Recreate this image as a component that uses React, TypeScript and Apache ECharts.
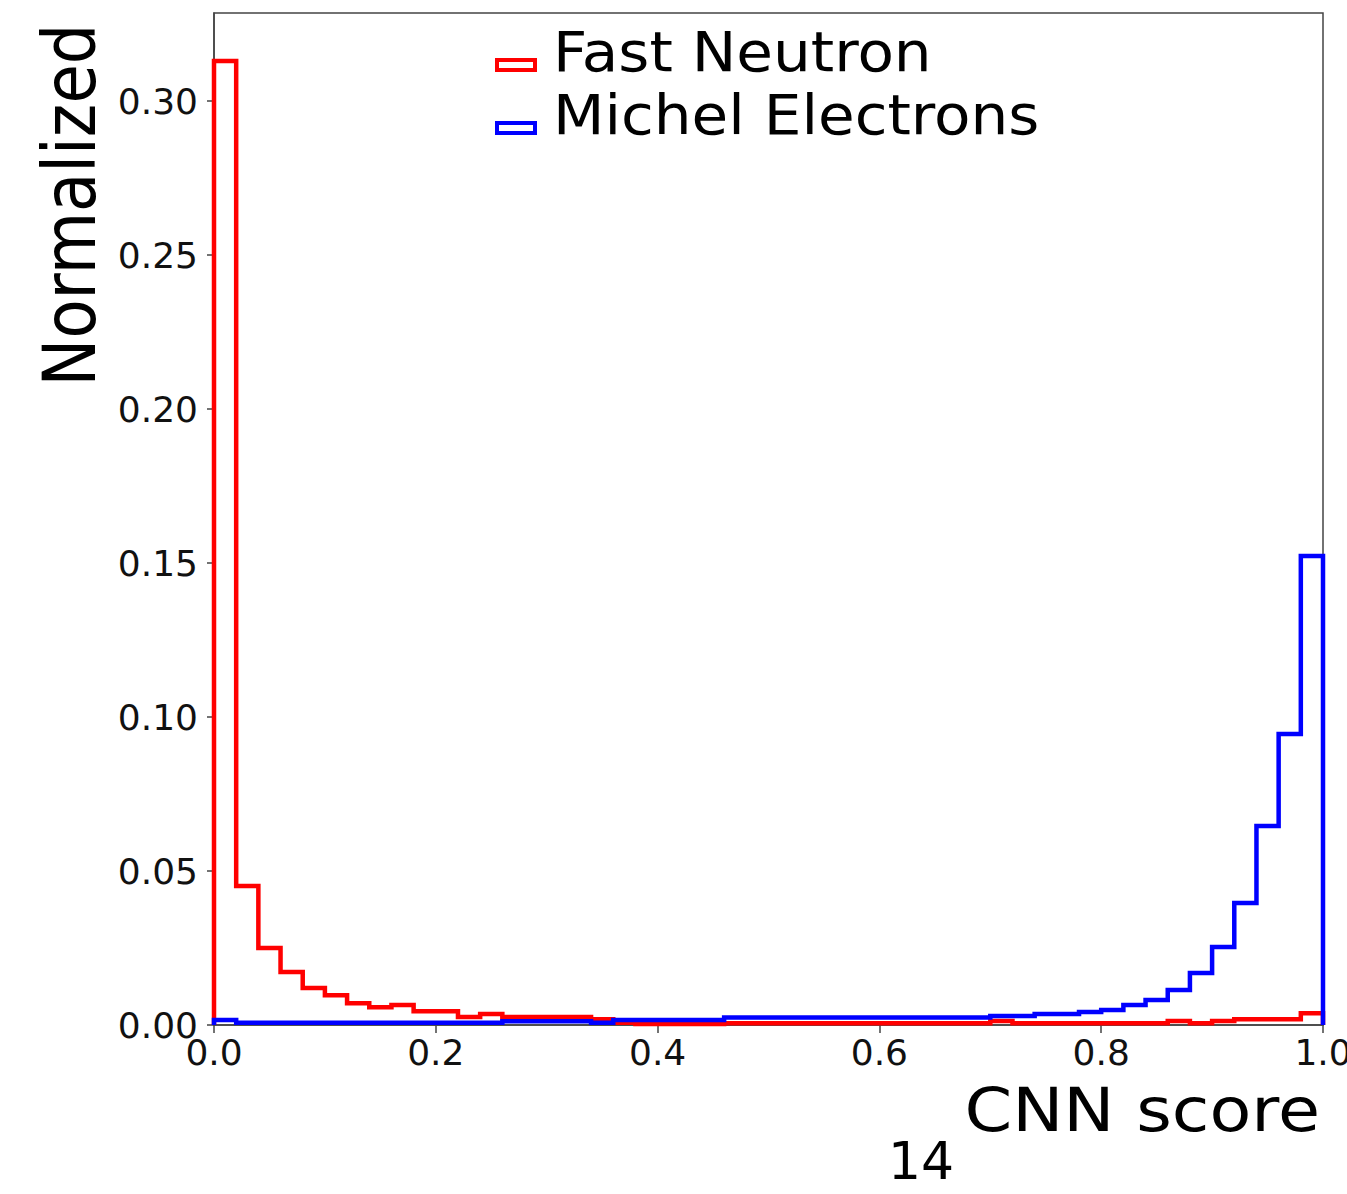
import React, { useEffect, useRef } from "react";
import * as echarts from "echarts";

// Histogram of CNN scores, 50 bins of width 0.02 on [0, 1], each normalized.
const BIN_WIDTH = 0.02;

const fastNeutron = [
  0.313, 0.0451, 0.025, 0.0172, 0.012, 0.0097, 0.0071, 0.0058, 0.0065, 0.0045,
  0.0045, 0.0026, 0.0036, 0.0026, 0.0026, 0.0026, 0.0026, 0.0019, 0.0007, 0.0003,
  0.0003, 0.0003, 0.0003, 0.0006, 0.0006, 0.0006, 0.0006, 0.0006, 0.0006, 0.0006,
  0.0006, 0.0006, 0.0006, 0.0006, 0.0006, 0.0013, 0.0006, 0.0006, 0.0006, 0.0006,
  0.0006, 0.0006, 0.0006, 0.0013, 0.0006, 0.0013, 0.0019, 0.0019, 0.0019, 0.0038,
];

const michelElectrons = [
  0.0016, 0.0007, 0.0007, 0.0007, 0.0007, 0.0007, 0.0007, 0.0007, 0.0007, 0.0007,
  0.0007, 0.0007, 0.0007, 0.0012, 0.0012, 0.0012, 0.0012, 0.0007, 0.0016, 0.0016,
  0.0016, 0.0016, 0.0016, 0.0024, 0.0024, 0.0024, 0.0024, 0.0024, 0.0024, 0.0024,
  0.0024, 0.0024, 0.0024, 0.0024, 0.0024, 0.0029, 0.0029, 0.0036, 0.0036, 0.0042,
  0.0049, 0.0065, 0.0081, 0.0114, 0.0169, 0.0253, 0.0396, 0.0646, 0.0945, 0.1523,
];

const seriesNames = ["Fast Neutron", "Michel Electrons"];
const seriesColors = ["#ff0000", "#0000ff"];

const xAxisTitle = "CNN score";
const yAxisTitle = "Normalized";
const pageNumber = "14";

const X_MIN = 0;
const X_MAX = 1;
const X_STEP = 0.2;
const Y_MIN = 0;
const Y_MAX = 0.3286;
const Y_STEP = 0.05;

const WIDTH = 1347;
const HEIGHT = 1194;
const FONT = "DejaVu Sans";

// Outline of a step histogram: up from the baseline, across each bin, back down.
function stepOutline(values: number[]): number[][] {
  const pts: number[][] = [[0, 0]];
  values.forEach((v, i) => {
    pts.push([i * BIN_WIDTH, v]);
    pts.push([(i + 1) * BIN_WIDTH, v]);
  });
  pts.push([values.length * BIN_WIDTH, 0]);
  return pts;
}

export default function App() {
  const ref = useRef<HTMLDivElement>(null);

  useEffect(() => {
    if (!ref.current) return;
    document.body.style.margin = "0";
    document.body.style.overflow = "hidden";
    const chart = echarts.init(ref.current, undefined, {
      renderer: "svg",
      width: WIDTH,
      height: HEIGHT,
    });

    const legendText = (text: string, y: number) => ({
      type: "text",
      x: 553,
      y,
      scaleX: 1.065,
      style: {
        text,
        font: `56px "${FONT}"`,
        fill: "#000",
        textAlign: "left",
        textVerticalAlign: "middle",
      },
    });
    const legendPatch = (y: number, color: string) => ({
      type: "rect",
      shape: { x: 497, y, width: 38, height: 10 },
      style: { fill: "#fff", stroke: color, lineWidth: 4 },
    });

    chart.setOption({
      animation: false,
      backgroundColor: "#ffffff",
      grid: {
        left: 214,
        right: 24,
        top: 13,
        bottom: 169,
        outerBoundsMode: "none",
        containLabel: false,
        show: true,
        borderColor: "#444",
        borderWidth: 1.5,
        backgroundColor: "transparent",
      },
      xAxis: {
        type: "value",
        min: X_MIN,
        max: X_MAX,
        interval: X_STEP,
        axisLine: { show: true, lineStyle: { color: "#444", width: 1.5 } },
        axisTick: { show: true, inside: false, length: 8, lineStyle: { color: "#444", width: 1.5 } },
        splitLine: { show: false },
        axisLabel: {
          margin: 9,
          fontFamily: FONT,
          fontSize: 36,
          color: "#111",
          formatter: (v: number) => v.toFixed(1),
        },
      },
      yAxis: {
        type: "value",
        min: Y_MIN,
        max: Y_MAX,
        interval: Y_STEP,
        axisLine: { show: true, lineStyle: { color: "#444", width: 1.5 } },
        axisTick: { show: true, inside: false, length: 7, lineStyle: { color: "#444", width: 1.5 } },
        splitLine: { show: false },
        axisLabel: {
          margin: 16,
          showMaxLabel: false,
          fontFamily: FONT,
          fontSize: 36,
          color: "#111",
          formatter: (v: number) => v.toFixed(2),
        },
      },
      series: [fastNeutron, michelElectrons].map((vals, i) => ({
        name: seriesNames[i],
        type: "line",
        data: stepOutline(vals),
        showSymbol: false,
        symbol: "none",
        clip: true,
        lineStyle: { color: seriesColors[i], width: 4.5, join: "miter" },
        z: 3 + i,
      })),
      graphic: [
        legendPatch(60, seriesColors[0]),
        legendPatch(123, seriesColors[1]),
        legendText(seriesNames[0], 52),
        legendText(seriesNames[1], 115),
        {
          type: "text",
          x: 69,
          y: 205,
          rotation: Math.PI / 2,
          scaleY: 1.15,
          style: {
            text: yAxisTitle,
            font: `64px "${FONT}"`,
            fill: "#000",
            textAlign: "center",
            textVerticalAlign: "middle",
          },
        },
        {
          type: "text",
          x: 1320,
          y: 1110,
          scaleX: 1.14,
          style: {
            text: xAxisTitle,
            font: `60px "${FONT}"`,
            fill: "#000",
            textAlign: "right",
            textVerticalAlign: "middle",
          },
        },
        {
          type: "text",
          x: 921,
          y: 1161,
          style: {
            text: pageNumber,
            font: `52px "${FONT}"`,
            fill: "#000",
            textAlign: "center",
            textVerticalAlign: "middle",
          },
        },
      ],
    });

    return () => chart.dispose();
  }, []);

  return (
    <div
      ref={ref}
      style={{ position: "absolute", left: 0, top: 0, width: WIDTH, height: HEIGHT, overflow: "hidden" }}
    />
  );
}
